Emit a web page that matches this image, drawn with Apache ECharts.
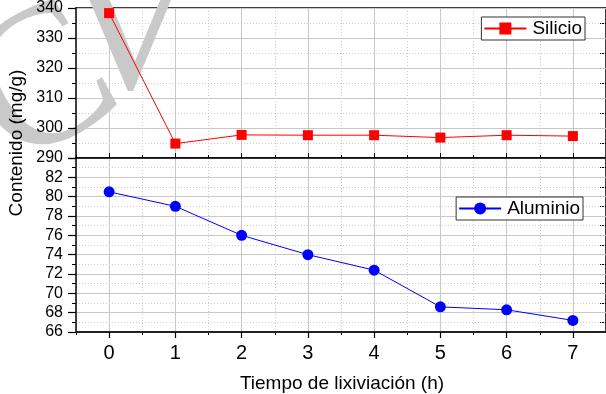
<!DOCTYPE html>
<html><head><meta charset="utf-8">
<script src="https://cdn.jsdelivr.net/npm/echarts@6/dist/echarts.min.js"></script>
<style>html,body{margin:0;padding:0;background:#fff}#c{width:606px;height:394px}</style>
</head><body><div id="c"></div>
<script>
// ---- data ----
const hours = [0, 1, 2, 3, 4, 5, 6, 7];
const silicio = [338.3, 294.8, 297.7, 297.6, 297.6, 296.8, 297.6, 297.3];
const aluminio = [80.5, 79.0, 76.0, 74.0, 72.4, 68.6, 68.3, 67.2];
const xTickLabels = [0, 1, 2, 3, 4, 5, 6, 7];
const siTickLabels = [290, 300, 310, 320, 330, 340];
const alTickLabels = [66, 68, 70, 72, 74, 76, 78, 80, 82];
const seriesNames = ['Silicio', 'Aluminio'];
const xTitle = 'Tiempo de lixiviación (h)';
const yTitle = 'Contenido (mg/g)';
const watermarkLetters = ['C', 'V'];

const FF = "'Liberation Sans', Arial, sans-serif";
const chart = echarts.init(document.getElementById('c'), null, {renderer: 'canvas'});

const majorGrid = {show: true, lineStyle: {color: '#c8c8c8', width: 1, type: 'solid'}};
const minorGrid = {show: true, lineStyle: {color: '#cccccc', width: 1, type: [1, 2]}};

function mainX(gi, opts) {
  return Object.assign({
    gridIndex: gi, type: 'value', min: -0.5, max: 7.5, position: 'bottom',
    axisLine: {show: true, onZero: false, lineStyle: {color: '#000', width: 1.5}},
    axisTick: {show: true, inside: true, length: 5, customValues: xTickLabels, lineStyle: {color: '#000', width: 1}},
    axisLabel: {show: false},
    splitLine: majorGrid, z: 3
  }, opts);
}
function minorX(gi, opts) {
  return Object.assign({
    gridIndex: gi, type: 'value', min: -0.5, max: 7.5, interval: 0.5, position: 'bottom',
    axisLine: {show: false, onZero: false},
    axisTick: {show: true, inside: true, length: 3, lineStyle: {color: '#000', width: 1}},
    axisLabel: {show: false},
    splitLine: minorGrid, z: 2
  }, opts);
}

const legendBase = {
  borderColor: '#333', borderWidth: 1, backgroundColor: '#fff', borderRadius: 0,
  padding: [2, 3, 2, 2], itemWidth: 42, itemHeight: 15, itemGap: 4,
  textStyle: {fontSize: 19, color: '#000', fontFamily: FF, padding: [0, 0, 0, 1]}
};

const option = {
  backgroundColor: '#fff',
  animation: false,
  grid: [
    {left: 76, right: 0, top: 1, height: 157},
    {left: 76, right: 0, top: 158, height: 174}
  ],
  xAxis: [
    mainX(0, {}),
    minorX(0, {}),
    {gridIndex: 0, type: 'value', min: -0.5, max: 7.5, position: 'top',
     axisLine: {show: true, onZero: false, lineStyle: {color: '#000', width: 1.5}},
     axisTick: {show: false}, axisLabel: {show: false}, splitLine: {show: false}},
    mainX(1, {
      axisLine: {show: true, onZero: false, lineStyle: {color: '#222', width: 2}},
      axisTick: {show: true, inside: false, length: 6, customValues: xTickLabels, lineStyle: {color: '#000', width: 1.2}},
      axisLabel: {show: true, customValues: xTickLabels, fontSize: 20, color: '#000', fontFamily: FF, margin: 11}
    }),
    minorX(1, {axisTick: {show: true, inside: false, length: 3, lineStyle: {color: '#000', width: 1}}}),
    {gridIndex: 1, type: 'value', min: -0.5, max: 7.5, position: 'top',
     axisLine: {show: true, onZero: false, lineStyle: {color: '#000', width: 1.5}},
     axisTick: {show: true, inside: true, length: 6, customValues: xTickLabels, lineStyle: {color: '#555', width: 1}},
     axisLabel: {show: false}, splitLine: {show: false}}
  ],
  yAxis: [
    {gridIndex: 0, type: 'value', min: 290, max: 340, interval: 10, position: 'left', z: 2,
     axisLine: {show: true, onZero: false, lineStyle: {color: '#000', width: 1.5}},
     axisTick: {show: true, inside: false, length: 8, lineStyle: {color: '#000', width: 1.2}},
     minorTick: {show: true, splitNumber: 2, length: 4, lineStyle: {color: '#000', width: 1}},
     axisLabel: {show: true, customValues: siTickLabels, fontSize: 16, color: '#000', fontFamily: FF, margin: 13, showMinLabel: true, showMaxLabel: true},
     splitLine: majorGrid, minorSplitLine: minorGrid},
    {gridIndex: 0, type: 'value', min: 290, max: 340, interval: 5, position: 'right',
     axisLine: {show: true, onZero: false, lineStyle: {color: '#000', width: 1.5}},
     axisTick: {show: true, inside: true, length: 6, lineStyle: {color: '#000', width: 1}},
     axisLabel: {show: false}, splitLine: {show: false}},
    {gridIndex: 1, type: 'value', min: 66, max: 84, interval: 2, position: 'left', z: 2,
     axisLine: {show: true, onZero: false, lineStyle: {color: '#000', width: 1.5}},
     axisTick: {show: true, inside: false, length: 8, lineStyle: {color: '#000', width: 1.2}},
     minorTick: {show: true, splitNumber: 2, length: 4, lineStyle: {color: '#000', width: 1}},
     axisLabel: {show: true, customValues: alTickLabels, fontSize: 16, color: '#000', fontFamily: FF, margin: 13},
     splitLine: majorGrid, minorSplitLine: minorGrid},
    {gridIndex: 1, type: 'value', min: 66, max: 84, interval: 1, position: 'right',
     axisLine: {show: true, onZero: false, lineStyle: {color: '#000', width: 1.5}},
     axisTick: {show: true, inside: true, length: 6, lineStyle: {color: '#000', width: 1}},
     axisLabel: {show: false}, splitLine: {show: false}}
  ],
  legend: [
    Object.assign({data: [seriesNames[0]], right: 21, top: 17}, legendBase),
    Object.assign({data: [seriesNames[1]], right: 23, top: 197}, legendBase)
  ],
  graphic: [
    {type: 'text', x: 45, y: 90, rotation: Math.PI / 6, z: 1, silent: true,
     style: {text: watermarkLetters[0], fontSize: 200, fontFamily: "'Liberation Serif', serif", fill: '#c9c9c9',
             align: 'center', verticalAlign: 'middle'}},
    {type: 'text', x: 130, y: 35, z: 1, silent: true,
     style: {text: watermarkLetters[1], fontSize: 200, fontFamily: "'Liberation Serif', serif", fill: '#c9c9c9',
             align: 'center', verticalAlign: 'middle'}},
    {type: 'text', x: 342, y: 384, z: 10,
     style: {text: xTitle, fontSize: 19, fontFamily: FF, fill: '#000', align: 'center', verticalAlign: 'middle'}},
    {type: 'text', x: 17, y: 143, rotation: Math.PI / 2, z: 10,
     style: {text: yTitle, fontSize: 19, fontFamily: FF, fill: '#000', align: 'center', verticalAlign: 'middle'}}
  ],
  series: [
    {name: seriesNames[0], type: 'line', xAxisIndex: 0, yAxisIndex: 0,
     data: hours.map((h, i) => [h, silicio[i]]),
     symbol: 'rect', symbolSize: 10, itemStyle: {color: '#ff0000'},
     lineStyle: {color: '#ff0000', width: 1}, z: 5},
    {name: seriesNames[1], type: 'line', xAxisIndex: 3, yAxisIndex: 2,
     data: hours.map((h, i) => [h, aluminio[i]]),
     symbol: 'circle', symbolSize: 11, itemStyle: {color: '#0000ff'},
     lineStyle: {color: '#0000ff', width: 1}, z: 5}
  ]
};
chart.setOption(option);
</script>
</body></html>
